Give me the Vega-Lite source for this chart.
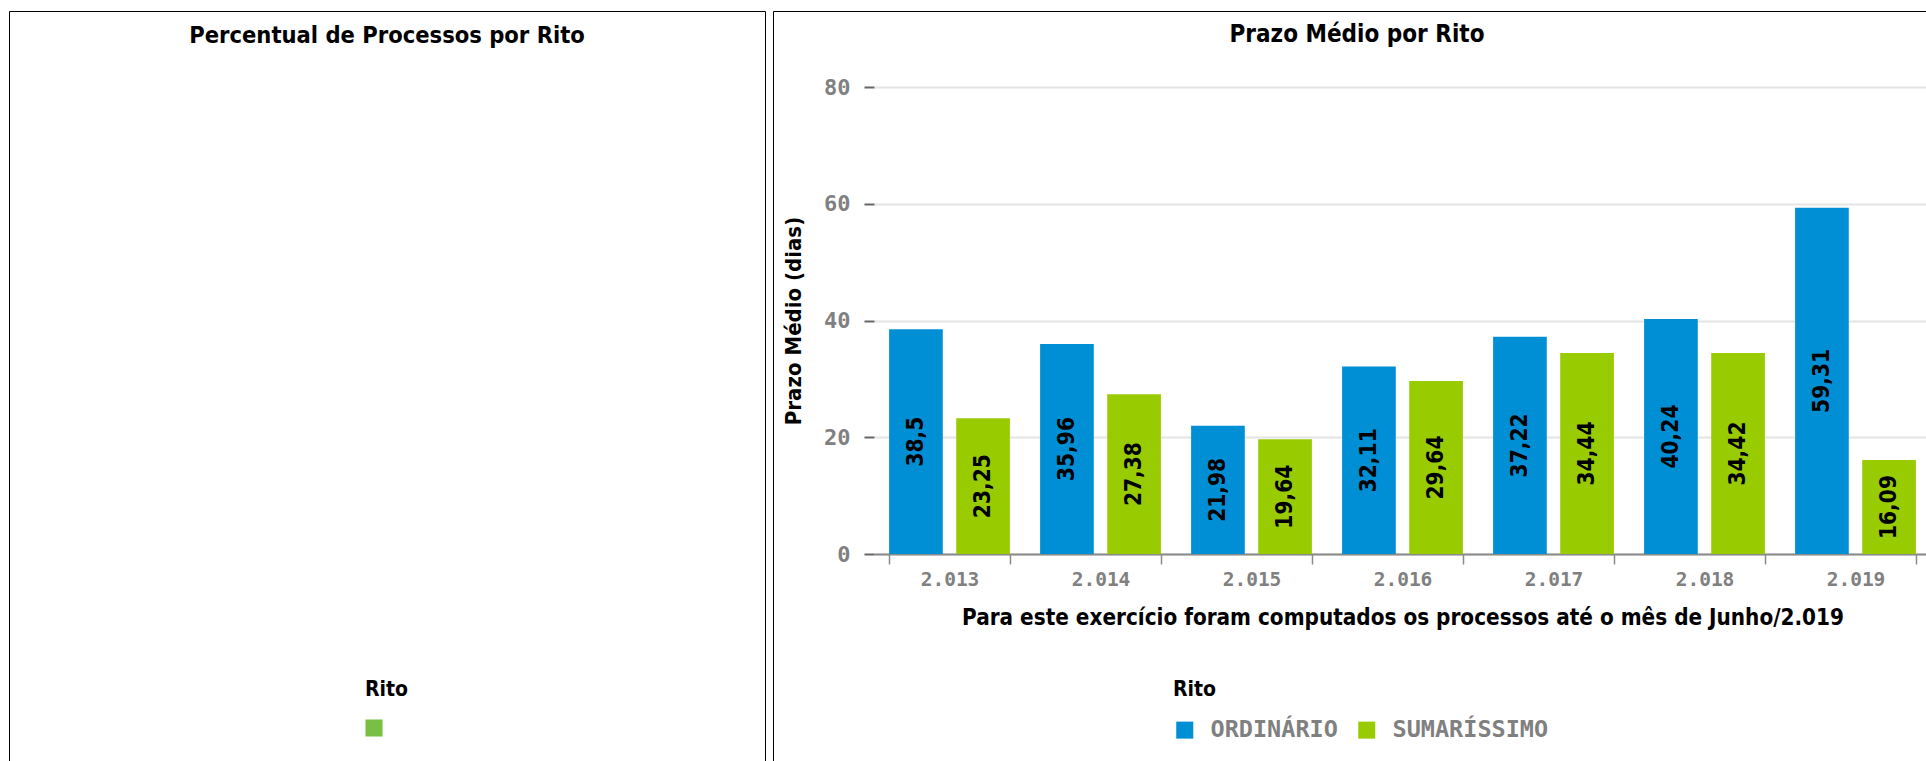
{
  "$schema": "https://vega.github.io/schema/vega-lite/v6.json",
  "padding": {"left": 8, "top": 10, "right": 0, "bottom": 0},
  "background": "white",
  "config": {
    "locale": {"number": {"decimal": ",", "thousands": ".", "grouping": [3], "currency": ["R$", ""]}},
    "view": {"stroke": "#000000", "strokeWidth": 1, "fill": "white"},
    "legend": {"symbolStrokeWidth": 0}
  },
  "spacing": 8,
  "bounds": "flush",
  "resolve": {"scale": {"color": "independent"}, "legend": {"color": "independent"}},
  "hconcat": [
    {
      "width": 756,
      "height": 760,
      "view": {"stroke": "#000000", "strokeWidth": 1, "fill": "white"},
      "title": {"text": "Percentual de Processos por Rito", "offset": -48, "baseline": "middle", "anchor": "middle", "frame": "group", "font": "DejaVu Sans Condensed", "fontSize": 23.5, "fontWeight": "bold", "color": "#000000"},
      "data": {"values": [{"Rito": "", "Percentual": 0}]},
      "mark": {"type": "arc", "strokeWidth": 0},
      "encoding": {
        "theta": {"field": "Percentual", "type": "quantitative"},
        "color": {
          "field": "Rito", "type": "nominal",
          "scale": {"range": ["#77c043"]},
          "legend": {"orient": "none", "legendX": 356, "legendY": 668, "title": "Rito", "titleFont": "DejaVu Sans Condensed", "titleFontSize": 21, "titleFontWeight": "bold", "titleColor": "#000000", "titlePadding": 19, "symbolType": "square", "symbolSize": 290, "labelFontSize": 16}
        }
      }
    },
    {
      "width": 1168,
      "height": 760,
      "title": {"text": "Prazo Médio por Rito", "offset": -48, "baseline": "middle", "anchor": "middle", "frame": "group", "font": "DejaVu Sans Condensed", "fontSize": 24, "fontWeight": "bold", "color": "#000000"},
      "data": {"values": [
        {"Ano": 2013, "Rito": "ORDINÁRIO", "Prazo": 38.5},
        {"Ano": 2013, "Rito": "SUMARÍSSIMO", "Prazo": 23.25},
        {"Ano": 2014, "Rito": "ORDINÁRIO", "Prazo": 35.96},
        {"Ano": 2014, "Rito": "SUMARÍSSIMO", "Prazo": 27.38},
        {"Ano": 2015, "Rito": "ORDINÁRIO", "Prazo": 21.98},
        {"Ano": 2015, "Rito": "SUMARÍSSIMO", "Prazo": 19.64},
        {"Ano": 2016, "Rito": "ORDINÁRIO", "Prazo": 32.11},
        {"Ano": 2016, "Rito": "SUMARÍSSIMO", "Prazo": 29.64},
        {"Ano": 2017, "Rito": "ORDINÁRIO", "Prazo": 37.22},
        {"Ano": 2017, "Rito": "SUMARÍSSIMO", "Prazo": 34.44},
        {"Ano": 2018, "Rito": "ORDINÁRIO", "Prazo": 40.24},
        {"Ano": 2018, "Rito": "SUMARÍSSIMO", "Prazo": 34.42},
        {"Ano": 2019, "Rito": "ORDINÁRIO", "Prazo": 59.31},
        {"Ano": 2019, "Rito": "SUMARÍSSIMO", "Prazo": 16.09}
      ]},
      "encoding": {
        "x": {
          "field": "Ano", "type": "ordinal",
          "scale": {"range": [101, 1158], "paddingInner": 0.2, "paddingOuter": 0.1},
          "axis": {
            "orient": "bottom", "offset": -217, "format": ",d", "formatType": "number", "labelAngle": 0,
            "domainColor": "#8a8a8a", "domainWidth": 2, "tickColor": "#8a8a8a", "tickWidth": 1.5, "tickSize": 10, "tickBand": "extent",
            "labelFont": "DejaVu Sans Mono", "labelFontSize": 19.5, "labelFontWeight": "bold", "labelColor": "#808080", "labelPadding": 6,
            "title": "Para este exercício foram computados os processos até o mês de Junho/2.019",
            "titleFont": "DejaVu Sans Condensed", "titleFontSize": 22.3, "titleFontWeight": "bold", "titleColor": "#000000", "titlePadding": 18,
            "grid": false
          }
        },
        "xOffset": {"field": "Rito", "type": "nominal", "scale": {"paddingInner": 0.2}}
      },
      "layer": [
        {
          "mark": {"type": "bar"},
          "encoding": {
            "y": {
              "field": "Prazo", "type": "quantitative",
              "scale": {"domain": [0, 80], "range": [543, 76], "nice": false},
              "axis": {
                "orient": "left", "offset": -101, "values": [0, 20, 40, 60, 80], "domain": false,
                "tickColor": "#666666", "tickWidth": 2, "tickSize": 10,
                "labelFont": "DejaVu Sans Mono", "labelFontSize": 22, "labelFontWeight": "bold", "labelColor": "#808080", "labelPadding": 14,
                "grid": true, "gridColor": "#e4e4e4", "gridWidth": 2,
                "title": "Prazo Médio (dias)", "titleFont": "DejaVu Sans Condensed", "titleFontSize": 22, "titleFontWeight": "bold", "titleColor": "#000000", "titlePadding": 18
              }
            },
            "color": {
              "field": "Rito", "type": "nominal",
              "scale": {"domain": ["ORDINÁRIO", "SUMARÍSSIMO"], "range": ["#008fd5", "#99cc00"]},
              "legend": {"orient": "none", "legendX": 400, "legendY": 668, "direction": "horizontal", "title": "Rito", "titleFont": "DejaVu Sans Condensed", "titleFontSize": 21, "titleFontWeight": "bold", "titleColor": "#000000", "titlePadding": 18, "symbolType": "square", "symbolSize": 290, "labelFont": "DejaVu Sans Mono", "labelFontSize": 23.5, "labelFontWeight": "bold", "labelColor": "#808080", "labelOffset": 14, "columnPadding": 17}
            }
          }
        },
        {
          "mark": {"type": "text", "angle": 270, "align": "center", "baseline": "middle", "font": "DejaVu Sans Condensed", "fontSize": 22.5, "fontWeight": "bold", "color": "#000000"},
          "encoding": {
            "y": {"field": "Prazo", "type": "quantitative", "scale": {"domain": [0, 160], "range": [543, 76], "nice": false}, "axis": null},
            "text": {"field": "Prazo", "type": "quantitative", "format": ".2~f"}
          }
        }
      ],
      "resolve": {"scale": {"y": "independent"}, "axis": {"y": "independent"}}
    }
  ]
}
